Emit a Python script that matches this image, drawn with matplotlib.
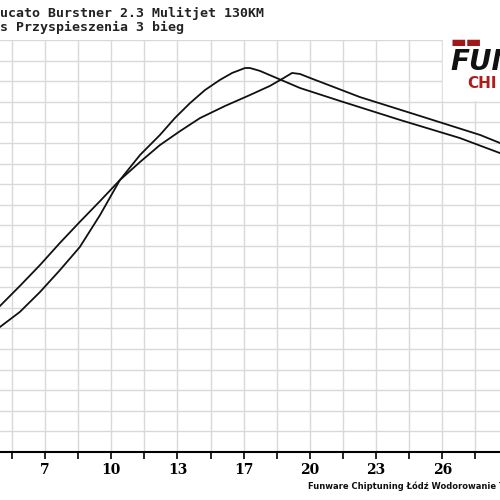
import matplotlib.pyplot as plt
from matplotlib.patches import Rectangle

# curve coordinates in grid units (x: grid columns, y: grid rows above axis)
a_x = [-0.36, 0.24, 0.85, 1.45, 2.05, 2.66, 3.26, 3.87, 4.47, 4.92, 5.38, 5.83, 6.28,
       6.65, 7.04, 7.19, 7.49, 8.70, 9.91, 11.72, 13.53, 14.74]
a_y = [6.07, 6.80, 7.77, 8.83, 9.95, 11.50, 13.20, 14.42, 15.39, 16.21, 16.94, 17.57, 18.06,
       18.40, 18.64, 18.64, 18.50, 17.67, 17.04, 16.12, 15.24, 14.51]
b_x = [-0.36, 0.24, 0.85, 1.45, 2.05, 2.66, 3.26, 3.87, 4.47, 5.08, 5.68, 6.44, 7.19,
       7.79, 8.16, 8.46, 8.70, 9.00, 10.51, 12.33, 14.14, 14.74]
b_y = [7.09, 8.06, 9.08, 10.15, 11.17, 12.18, 13.20, 14.08, 14.90, 15.58, 16.21, 16.80, 17.33,
       17.77, 18.11, 18.40, 18.35, 18.16, 17.23, 16.31, 15.39, 15.00]

tick_pos = [1, 3, 5, 7, 9, 11, 13]
tick_labels = ['7', '10', '13', '17', '20', '23', '26']

fig = plt.figure(figsize=(5, 5), dpi=100)
ax = fig.add_axes([0, 0.096, 1, 0.824])
ax.set_xlim(-0.36, 14.74)
ax.set_ylim(0, 20)

for gx in range(0, 15):
    ax.axvline(gx, color='#d9d9d9', lw=1, zorder=0)
for gy in range(1, 21):
    ax.axhline(gy, color='#d9d9d9', lw=1, zorder=0)

ax.plot(a_x, a_y, color='#111111', lw=1.3)
ax.plot(b_x, b_y, color='#111111', lw=1.3)

for s in ['top', 'left', 'right']:
    ax.spines[s].set_visible(False)
ax.spines['bottom'].set_linewidth(1.5)
ax.set_yticks([])
ax.set_xticks(range(0, 15), minor=True)
ax.tick_params(which='minor', direction='out', length=5, width=1.2)
ax.set_xticks(tick_pos)
ax.set_xticklabels(tick_labels, family='DejaVu Serif', fontweight='bold', fontsize=10)
ax.tick_params(which='major', direction='out', length=5, width=1.2, pad=3)

# logo area
fig.patches.append(Rectangle((0.886, 0.80), 0.12, 0.20, transform=fig.transFigure,
                             color='white', zorder=5))
fig.text(0.90, 0.905, '\u25ac\u25ac', color='#a01818', fontsize=12, zorder=6)
fig.text(0.90, 0.86, 'FUN', color='#111111', fontsize=20, fontweight='bold',
         style='italic', zorder=6)
fig.text(0.935, 0.825, 'CHI', color='#b01c1c', fontsize=11, fontweight='bold', zorder=6)

fig.text(0.0, 0.965, 'ucato Burstner 2.3 Mulitjet 130KM', fontsize=9.5,
         family='DejaVu Sans Mono', fontweight='bold', color='#222222')
fig.text(0.0, 0.937, 's Przyspieszenia 3 bieg', fontsize=9.5,
         family='DejaVu Sans Mono', fontweight='bold', color='#222222')
fig.text(0.617, 0.022, 'Funware Chiptuning Łódź Wodorowanie Tel.', fontsize=6,
         fontweight='bold', color='#111111')

fig.savefig('out.png', dpi=100)
